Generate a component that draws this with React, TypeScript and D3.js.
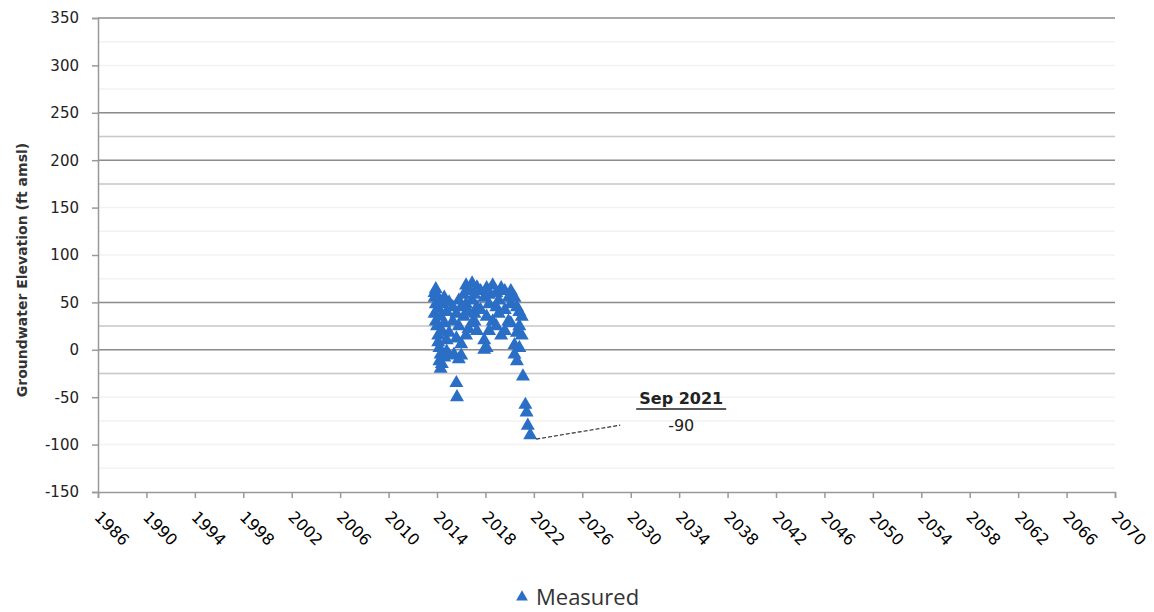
import * as d3 from "d3";
import { useEffect, useRef } from "react";

// measured groundwater elevations (decimal year, ft amsl)
const measuredYears = [
  2013.8, 2013.8, 2013.8, 2013.9, 2013.9, 2013.9, 2014.0, 2014.0,
  2014.1, 2014.1, 2014.1, 2014.2, 2014.2, 2014.2, 2014.3, 2014.3, 2014.3,
  2014.4, 2014.4, 2014.4, 2014.6, 2014.6, 2014.6, 2014.8, 2014.8, 2014.8,
  2015.0, 2015.0, 2015.0, 2015.3, 2015.3, 2015.6, 2015.65, 2015.4,
  2015.6, 2015.6, 2015.8, 2015.8, 2015.8, 2016.0, 2016.0, 2016.0,
  2016.2, 2016.2, 2016.4, 2016.4, 2016.4, 2016.6, 2016.6, 2016.6,
  2016.9, 2016.9, 2016.9, 2017.1, 2017.1, 2017.1, 2017.3, 2017.3, 2017.3,
  2017.6, 2017.6, 2017.9, 2017.9, 2017.9, 2018.1, 2018.1, 2018.1,
  2018.3, 2018.3, 2018.3, 2018.6, 2018.6, 2018.9, 2018.9, 2018.9,
  2019.1, 2019.1, 2019.3, 2019.3, 2019.6, 2019.6, 2019.6, 2019.9, 2019.9,
  2020.1, 2020.1, 2020.1, 2020.4, 2020.4, 2020.4, 2020.6, 2020.6, 2020.6,
  2020.8, 2020.8, 2020.8, 2021.0, 2021.0,
  2021.1, 2021.3, 2021.4, 2021.5, 2021.7,
];
const measuredValues = [
  60, 55, 38, 64, 48, 30, 57, 25,
  44, 15, 8, 52, 2, -12, 35, -5, -20,
  48, 20, -15, 55, 28, -8, 40, 10, -2,
  50, 18, -6, 45, 30, -35, -50, -5,
  38, 12, 52, 25, -10, 45, 6, -6,
  58, 35, 68, 48, 15, 62, 40, 22,
  70, 52, 28, 58, 30, 38, 66, 45, 20,
  62, 42, 55, 10, 0, 65, 35, 2,
  58, 48, 20, 68, 30, 60, 45, 25,
  52, 38, 65, 15, 62, 42, 20, 55, 30,
  62, 48, 28, 55, 5, -5, 45, 18, -12,
  40, 25, 2, 35, 15,
  -28, -58, -66, -80, -90,
];

const yearTicks = d3.range(1986, 2071, 4);
const elevTicks = [-150, -100, -50, 0, 50, 100, 150, 200, 250, 300, 350];
const darkGrid = [350, 250, 200, 50, 0];
const midGrid = [225, 175, 25, -25];
const faintGrid = d3.range(-125, 350, 25);

const callout = { label: "Sep 2021", value: "-90", year: 2021.7, elev: -90 };

const App = () => {
  const svgRef = useRef<SVGSVGElement>(null);

  useEffect(() => {
    const svg = d3.select(svgRef.current);
    svg.selectAll("*").remove();

    const width = 1154;
    const height = 612;
    const margin = { top: 18, right: 39, bottom: 120, left: 98 };
    const innerWidth = width - margin.left - margin.right;
    const innerHeight = height - margin.top - margin.bottom;

    const x = d3.scaleLinear().domain([1986, 2070]).range([0, innerWidth]);
    const y = d3.scaleLinear().domain([-150, 350]).range([innerHeight, 0]);

    const g = svg
      .append("g")
      .attr("transform", `translate(${margin.left},${margin.top})`);

    // grid lines, three shades like the original
    const grid = (vals, color) =>
      g
        .append("g")
        .selectAll("line")
        .data(vals)
        .enter()
        .append("line")
        .attr("x1", 0)
        .attr("x2", innerWidth)
        .attr("y1", (d) => y(d))
        .attr("y2", (d) => y(d))
        .attr("stroke", color)
        .attr("stroke-width", 1.5);
    grid(faintGrid, "#f2f2f2");
    grid(midGrid, "#c8c8c8");
    grid(darkGrid, "#8c8c8c");

    // y axis
    const yAxis = g
      .append("g")
      .call(
        d3
          .axisLeft(y)
          .tickValues(elevTicks)
          .tickFormat((d) => String(d))
          .tickSize(6)
          .tickPadding(13)
      );
    yAxis.select(".domain").attr("stroke", "#999").attr("stroke-width", 1.5);
    yAxis.selectAll(".tick line").attr("stroke", "#999").attr("stroke-width", 1.5);
    yAxis
      .selectAll("text")
      .attr("font-family", "DejaVu Sans")
      .attr("font-size", 15)
      .attr("fill", "#222");

    // x axis with tilted year labels
    const xAxis = g
      .append("g")
      .attr("transform", `translate(0,${innerHeight})`)
      .call(d3.axisBottom(x).tickValues(yearTicks).tickFormat((d) => String(d)).tickSize(6));
    xAxis.select(".domain").attr("stroke", "#999").attr("stroke-width", 1.5);
    xAxis.selectAll(".tick line").attr("stroke", "#999").attr("stroke-width", 1.5);
    xAxis
      .selectAll("text")
      .attr("font-family", "DejaVu Sans")
      .attr("font-size", 16)
      .attr("fill", "#000")
      .style("text-anchor", "start")
      .attr("x", 0)
      .attr("y", 0)
      .attr("dy", "0.35em")
      .attr("transform", "translate(-1,22) rotate(45)");

    // y axis title
    svg
      .append("text")
      .attr("transform", `translate(27,${270}) rotate(-90)`)
      .attr("text-anchor", "middle")
      .attr("font-family", "DejaVu Sans")
      .attr("font-weight", "bold")
      .attr("font-size", 14)
      .attr("fill", "#333")
      .text("Groundwater Elevation (ft amsl)");

    // measured points as triangles
    const tri = d3.symbol().type(d3.symbolTriangle).size(85);
    g.append("g")
      .selectAll("path")
      .data(measuredYears.map((yr, i) => [yr, measuredValues[i]]))
      .enter()
      .append("path")
      .attr("d", tri)
      .attr("transform", (d) => `translate(${x(d[0])},${y(d[1])})`)
      .attr("fill", "#2a6ec6");

    // callout for the last reading
    const cx = x(callout.year);
    const cy = y(callout.elev);
    g.append("line")
      .attr("x1", cx + 6)
      .attr("y1", cy + 4)
      .attr("x2", cx + 90)
      .attr("y2", cy - 10)
      .attr("stroke", "#333")
      .attr("stroke-width", 1.2)
      .attr("stroke-dasharray", "4 2");
    const labelX = cx + 151;
    g.append("text")
      .attr("x", labelX)
      .attr("y", cy - 31)
      .attr("text-anchor", "middle")
      .attr("font-family", "DejaVu Sans")
      .attr("font-weight", "bold")
      .attr("font-size", 16)
      .attr("fill", "#222")
      .text(callout.label);
    g.append("line")
      .attr("x1", labelX - 45)
      .attr("x2", labelX + 45)
      .attr("y1", cy - 26)
      .attr("y2", cy - 26)
      .attr("stroke", "#222")
      .attr("stroke-width", 1.5);
    g.append("text")
      .attr("x", labelX)
      .attr("y", cy - 4)
      .attr("text-anchor", "middle")
      .attr("font-family", "DejaVu Sans")
      .attr("font-size", 16)
      .attr("fill", "#222")
      .text(callout.value);

    // legend
    const legend = svg.append("g").attr("transform", "translate(522,597)");
    legend
      .append("path")
      .attr("d", d3.symbol().type(d3.symbolTriangle).size(60))
      .attr("fill", "#2a6ec6");
    legend
      .append("text")
      .attr("x", 14)
      .attr("y", 8)
      .attr("font-family", "Open Sans")
      .attr("font-size", 22)
      .attr("fill", "#333")
      .text("Measured");
  }, []);

  return (
    <svg
      ref={svgRef}
      width={1154}
      height={612}
      style={{ position: "absolute", left: 0, top: 0, background: "white" }}
    />
  );
};

export default App;
